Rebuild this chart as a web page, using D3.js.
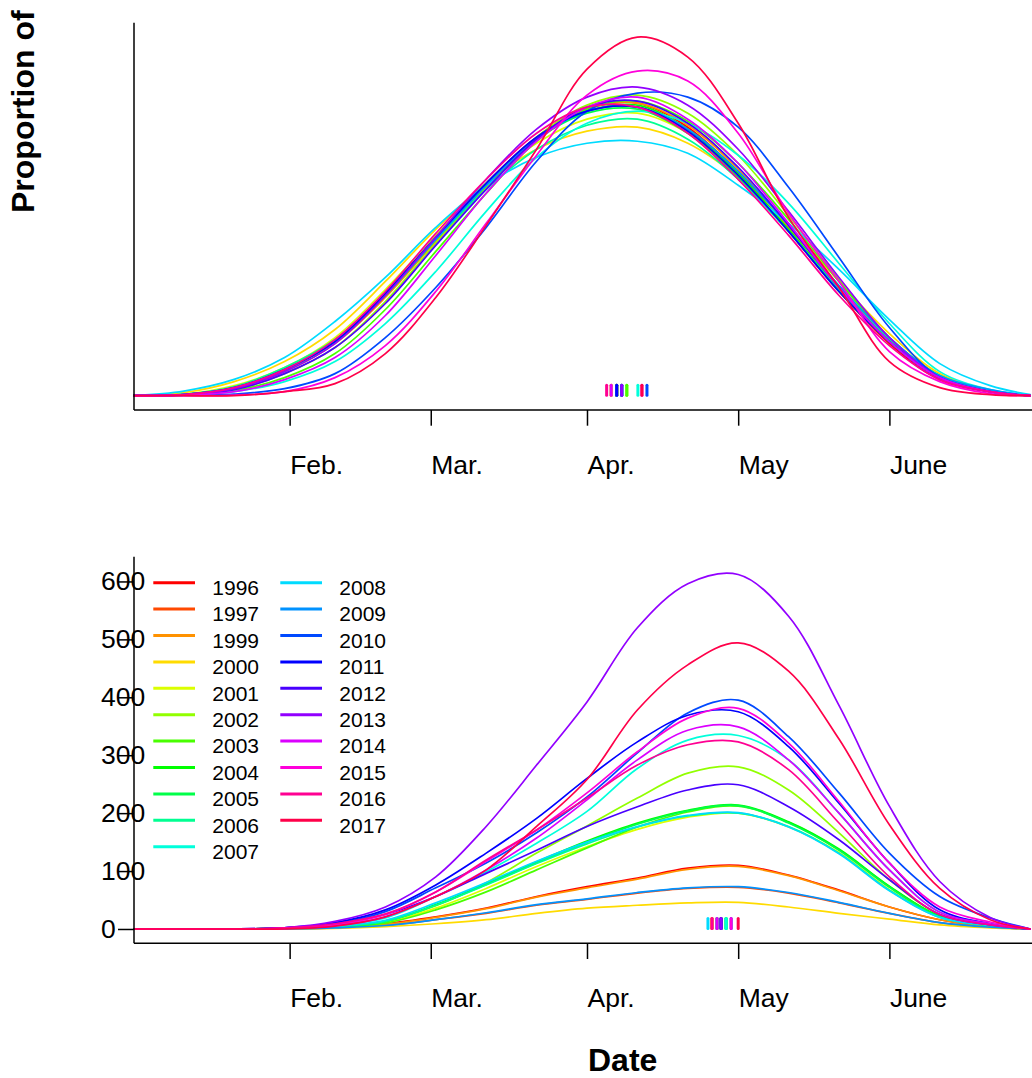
<!DOCTYPE html>
<html>
<head>
<meta charset="utf-8">
<script src="https://cdn.jsdelivr.net/npm/d3@7"></script>
<style>
  html, body { margin: 0; padding: 0; background: #fff; }
  svg { display: block; font-family: "Liberation Sans", Arial, sans-serif; }
</style>
</head>
<body>
<div id="chart-holder"></div>
<script>
// sample days (day of season, 0 = Jan 1)
const days = [0, 10, 20, 30, 40, 50, 60, 70, 80, 90, 100, 110, 120, 130, 140, 150, 160, 170, 178];

const years = [1996, 1997, 1999, 2000, 2001, 2002, 2003, 2004, 2005, 2006, 2007,
  2008, 2009, 2010, 2011, 2012, 2013, 2014, 2015, 2016, 2017];

const monthTicks = [31, 59, 90, 120, 150];
const monthLabels = ["Feb.", "Mar.", "Apr.", "May", "June"];
const countTicks = [0, 100, 200, 300, 400, 500, 600];

// top panel: proportion of season total per day (%), one row per year
const proportion = [
  [0, 0.005, 0.04, 0.13, 0.27, 0.51, 0.79, 1.06, 1.29, 1.43, 1.46, 1.34, 1.11, 0.82, 0.52, 0.26, 0.08, 0.02, 0],
  [0, 0.006, 0.042, 0.13, 0.28, 0.51, 0.79, 1.06, 1.28, 1.42, 1.44, 1.33, 1.12, 0.84, 0.54, 0.28, 0.09, 0.02, 0],
  [0, 0.005, 0.04, 0.12, 0.26, 0.49, 0.77, 1.04, 1.28, 1.43, 1.46, 1.35, 1.13, 0.85, 0.54, 0.27, 0.09, 0.02, 0],
  [0, 0.015, 0.07, 0.17, 0.33, 0.57, 0.83, 1.06, 1.23, 1.32, 1.34, 1.26, 1.09, 0.85, 0.57, 0.31, 0.11, 0.025, 0],
  [0, 0.007, 0.05, 0.14, 0.29, 0.53, 0.8, 1.06, 1.26, 1.38, 1.41, 1.31, 1.1, 0.83, 0.54, 0.28, 0.09, 0.02, 0],
  [0, 0.004, 0.03, 0.11, 0.24, 0.47, 0.76, 1.04, 1.29, 1.45, 1.5, 1.41, 1.2, 0.9, 0.58, 0.29, 0.1, 0.02, 0],
  [0, 0.003, 0.025, 0.09, 0.21, 0.43, 0.72, 1.01, 1.27, 1.43, 1.47, 1.37, 1.16, 0.88, 0.57, 0.29, 0.1, 0.02, 0],
  [0, 0.005, 0.04, 0.13, 0.27, 0.5, 0.78, 1.05, 1.28, 1.42, 1.45, 1.33, 1.11, 0.83, 0.53, 0.27, 0.09, 0.02, 0],
  [0, 0.005, 0.04, 0.13, 0.27, 0.51, 0.79, 1.06, 1.28, 1.41, 1.43, 1.31, 1.09, 0.82, 0.52, 0.27, 0.09, 0.02, 0],
  [0, 0.006, 0.045, 0.14, 0.28, 0.51, 0.78, 1.03, 1.23, 1.35, 1.38, 1.28, 1.08, 0.82, 0.53, 0.28, 0.09, 0.02, 0],
  [0, 0.003, 0.02, 0.07, 0.17, 0.36, 0.62, 0.92, 1.19, 1.36, 1.42, 1.36, 1.2, 0.96, 0.66, 0.36, 0.12, 0.03, 0],
  [0, 0.023, 0.081, 0.19, 0.37, 0.59, 0.84, 1.05, 1.19, 1.26, 1.27, 1.21, 1.05, 0.86, 0.63, 0.38, 0.16, 0.05, 0.005],
  [0, 0.006, 0.04, 0.13, 0.27, 0.5, 0.78, 1.05, 1.28, 1.42, 1.44, 1.33, 1.12, 0.85, 0.55, 0.29, 0.1, 0.03, 0],
  [0, 0.001, 0.008, 0.035, 0.11, 0.29, 0.54, 0.84, 1.17, 1.42, 1.51, 1.49, 1.34, 1.04, 0.69, 0.34, 0.09, 0.02, 0],
  [0, 0.005, 0.04, 0.13, 0.27, 0.51, 0.79, 1.06, 1.29, 1.42, 1.44, 1.32, 1.1, 0.82, 0.52, 0.27, 0.09, 0.02, 0],
  [0, 0.004, 0.03, 0.11, 0.24, 0.46, 0.75, 1.03, 1.28, 1.44, 1.47, 1.36, 1.14, 0.85, 0.54, 0.27, 0.09, 0.02, 0],
  [0, 0.005, 0.035, 0.12, 0.26, 0.5, 0.79, 1.08, 1.33, 1.49, 1.54, 1.45, 1.23, 0.92, 0.59, 0.29, 0.09, 0.02, 0],
  [0, 0.003, 0.02, 0.08, 0.19, 0.4, 0.7, 1.01, 1.27, 1.44, 1.49, 1.38, 1.16, 0.86, 0.54, 0.27, 0.09, 0.02, 0],
  [0, 0, 0.003, 0.02, 0.09, 0.25, 0.52, 0.86, 1.2, 1.5, 1.62, 1.57, 1.31, 0.91, 0.57, 0.22, 0.07, 0.01, 0],
  [0, 0.005, 0.04, 0.13, 0.28, 0.52, 0.81, 1.08, 1.31, 1.44, 1.44, 1.31, 1.08, 0.8, 0.5, 0.25, 0.08, 0.02, 0],
  [0, 0, 0, 0.02, 0.06, 0.21, 0.49, 0.85, 1.23, 1.63, 1.79, 1.69, 1.36, 0.89, 0.54, 0.17, 0.04, 0.005, 0]
];

// bottom panel: number present, one row per year
const present = [
  [0, 0, 0, 1, 3, 9, 21, 36, 56, 73, 88, 105, 110, 93, 67, 38, 16, 4, 0],
  [0, 0, 0, 0, 2, 6, 16, 27, 41, 51, 62, 70, 72, 62, 45, 27, 11, 3, 0],
  [0, 0, 0, 1, 3, 8, 20, 35, 55, 71, 86, 103, 108, 92, 66, 38, 16, 4, 0],
  [0, 0, 0, 0, 1, 4, 9, 16, 27, 36, 41, 45, 46, 38, 27, 17, 7, 2, 0],
  [0, 0, 0, 1, 3, 11, 36, 70, 108, 142, 172, 193, 200, 176, 132, 68, 21, 6, 0],
  [0, 0, 0, 1, 4, 13, 40, 80, 131, 178, 226, 269, 280, 240, 166, 85, 25, 7, 0],
  [0, 0, 0, 1, 3, 10, 33, 64, 102, 140, 176, 202, 212, 184, 137, 73, 22, 6, 0],
  [0, 0, 0, 1, 4, 13, 42, 78, 116, 152, 183, 205, 214, 185, 138, 74, 22, 6, 0],
  [0, 0, 0, 1, 4, 13, 41, 77, 114, 150, 181, 204, 213, 183, 136, 72, 21, 6, 0],
  [0, 0, 0, 1, 4, 13, 41, 76, 113, 147, 176, 195, 200, 177, 131, 67, 20, 6, 0],
  [0, 0, 0, 1, 6, 19, 56, 99, 148, 203, 277, 326, 334, 292, 200, 102, 29, 9, 0],
  [0, 0, 0, 1, 5, 15, 45, 80, 117, 150, 177, 196, 201, 176, 130, 66, 20, 6, 0],
  [0, 0, 0, 0, 2, 6, 16, 28, 42, 52, 63, 71, 73, 63, 46, 27, 11, 3, 0],
  [0, 0, 0, 2, 9, 30, 71, 114, 166, 228, 304, 373, 395, 332, 235, 131, 56, 19, 0],
  [0, 0, 0, 2, 11, 33, 76, 131, 191, 260, 323, 369, 375, 315, 217, 114, 33, 9, 0],
  [0, 0, 0, 2, 9, 25, 56, 96, 136, 177, 211, 240, 249, 211, 154, 85, 25, 7, 0],
  [0, 0, 0, 2, 13, 38, 90, 177, 283, 392, 520, 596, 612, 540, 386, 212, 82, 20, 0],
  [0, 0, 0, 1, 6, 21, 56, 102, 157, 223, 292, 343, 349, 292, 200, 102, 29, 9, 0],
  [0, 0, 0, 1, 7, 25, 64, 117, 171, 235, 306, 364, 381, 321, 220, 114, 38, 12, 0],
  [0, 0, 0, 2, 9, 26, 64, 119, 171, 226, 283, 318, 323, 275, 183, 90, 25, 7, 0],
  [0, 0, 0, 0, 5, 21, 56, 102, 177, 258, 378, 456, 494, 445, 328, 180, 70, 16, 0]
];

// peak day of each year, marked along the baseline
const proportionPeak = [95.9, 94.8, 95.9, 94.8, 95.9, 97.9, 97.9, 96.9, 95.9, 96.9, 100.1,
  96.9, 95.9, 101.9, 95.9, 96.9, 96.9, 94.8, 100.9, 93.9, 100.9];
const presentPeak = [114.8, 115.8, 114.8, 115.8, 116.6, 116.6, 117.6, 116.6, 117.6, 117.6, 117.6,
  114, 115.8, 118.6, 116.6, 116.6, 116.6, 115.8, 118.6, 114.8, 120];

// rainbow palette, one hue per year
const color = (i) => d3.hsl((i * 360) / years.length, 1, 0.5).formatHex();

const width = 1032;
const height = 1078;
const axisLeftX = 134;

const svg = d3
  .select("#chart-holder")
  .append("svg")
  .attr("width", width)
  .attr("height", height);

const x = d3.scaleLinear().domain([0, 178]).range([133.4, 1030.5]);

// padded y domain, like R's default 4% extension
const paddedScale = (maxVal, top, bottom) => {
  const pad = maxVal * 0.04;
  return d3.scaleLinear().domain([-pad, maxVal + pad]).range([bottom, top]);
};

const drawPanel = (series, peaks, y, showYTicks) => {
  const g = svg.append("g");
  const [yLow, yHigh] = y.range();

  const line = d3
    .line()
    .x((d, i) => x(days[i]))
    .y((d) => y(Math.max(0, d)))
    .curve(d3.curveCatmullRom.alpha(0.5));

  g.selectAll("path.year")
    .data(series)
    .enter()
    .append("path")
    .attr("class", "year")
    .attr("d", (d) => line(d))
    .attr("fill", "none")
    .attr("stroke", (d, i) => color(i))
    .attr("stroke-width", 1.7)
    .attr("stroke-linejoin", "round");

  // peak markers
  g.selectAll("line.peak")
    .data(peaks)
    .enter()
    .append("line")
    .attr("class", "peak")
    .attr("x1", (d) => x(d))
    .attr("x2", (d) => x(d))
    .attr("y1", y(0) - 0.5)
    .attr("y2", y(0) - 10.5)
    .attr("stroke", (d, i) => color(i))
    .attr("stroke-width", 3)
    .attr("stroke-linecap", "round");

  // x axis
  const xAxis = g
    .append("g")
    .attr("transform", `translate(0,${yLow})`)
    .call(
      d3
        .axisBottom(x)
        .tickValues(monthTicks)
        .tickFormat((d, i) => monthLabels[i])
        .tickSize(15.7)
        .tickSizeOuter(0)
    );
  xAxis.select(".domain").remove();
  xAxis.selectAll(".tick line").attr("stroke", "#000").attr("stroke-width", 1.5);
  xAxis
    .selectAll(".tick text")
    .attr("fill", "#000")
    .attr("font-size", 26.5)
    .attr("text-anchor", "start")
    .attr("y", 64)
    .attr("dy", null);
  xAxis
    .append("line")
    .attr("x1", axisLeftX)
    .attr("x2", width)
    .attr("stroke", "#000")
    .attr("stroke-width", 1.5);

  // y axis
  g.append("line")
    .attr("x1", axisLeftX)
    .attr("x2", axisLeftX)
    .attr("y1", yLow)
    .attr("y2", yHigh)
    .attr("stroke", "#000")
    .attr("stroke-width", 1.5);

  if (showYTicks) {
    const yAxis = g
      .append("g")
      .attr("transform", `translate(${axisLeftX},0)`)
      .call(d3.axisLeft(y).tickValues(countTicks).tickSize(16).tickSizeOuter(0));
    yAxis.select(".domain").remove();
    yAxis.selectAll(".tick line").attr("stroke", "#000").attr("stroke-width", 1.5);
    yAxis
      .selectAll(".tick text")
      .attr("fill", "#000")
      .attr("font-size", 26.5)
      .attr("text-anchor", "start")
      .attr("x", -33);
  }
  return g;
};

const yTop = paddedScale(1.79, 22.7, 410);
const yBottom = paddedScale(618, 556.7, 943.3);

drawPanel(proportion, proportionPeak, yTop, false);
drawPanel(present, presentPeak, yBottom, true);

// axis titles
svg
  .append("text")
  .attr("transform", "translate(33.5,213) rotate(-90)")
  .attr("font-size", 32)
  .attr("font-weight", "bold")
  .text("Proportion of");

svg
  .append("clipPath")
  .attr("id", "lower-clip")
  .append("rect")
  .attr("x", 0)
  .attr("y", 536)
  .attr("width", width)
  .attr("height", height - 536);

svg
  .append("text")
  .attr("clip-path", "url(#lower-clip)")
  .attr("transform", "translate(34,750) rotate(-90)")
  .attr("font-size", 32)
  .attr("font-weight", "bold")
  .text("Number Present");

svg
  .append("text")
  .attr("x", 588)
  .attr("y", 1071)
  .attr("font-size", 32)
  .attr("font-weight", "bold")
  .text("Date");

// legend, two columns
const perColumn = 11;
const legend = svg
  .append("g")
  .selectAll("g")
  .data(years)
  .enter()
  .append("g")
  .attr("transform", (d, i) => {
    const col = Math.floor(i / perColumn);
    const row = i % perColumn;
    return `translate(${153.3 + col * 127},${582.7 + row * 26.4})`;
  });

legend
  .append("line")
  .attr("x1", 0)
  .attr("x2", 41.7)
  .attr("stroke", (d, i) => color(i))
  .attr("stroke-width", 3);

legend
  .append("text")
  .attr("x", 59)
  .attr("y", 12.3)
  .attr("font-size", 21)
  .text((d) => d);
</script>
</body>
</html>
